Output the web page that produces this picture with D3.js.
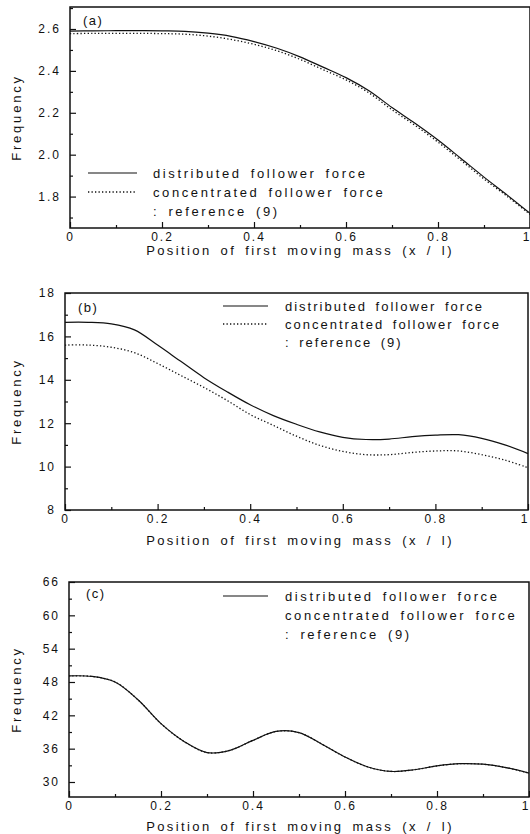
<!DOCTYPE html>
<html>
<head>
<meta charset="utf-8">
<script src="https://cdn.jsdelivr.net/npm/d3@7"></script>
<style>
  body { margin: 0; background: #fff; }
  svg { font-family: "Liberation Sans", Arial, sans-serif; }
</style>
</head>
<body>
<div id="chart"></div>
<script>
// position of first moving mass (x / l)
var pos = [0, 0.05, 0.1, 0.15, 0.2, 0.25, 0.3, 0.35, 0.4, 0.45, 0.5,
           0.55, 0.6, 0.65, 0.7, 0.75, 0.8, 0.85, 0.9, 0.95, 1];

// (a)
var freqA_dist = [2.590, 2.591, 2.592, 2.592, 2.591, 2.589, 2.580, 2.565, 2.540, 2.508, 2.467,
                  2.418, 2.368, 2.305, 2.225, 2.150, 2.070, 1.982, 1.893, 1.808, 1.720];
var freqA_conc = [2.578, 2.579, 2.579, 2.579, 2.578, 2.575, 2.566, 2.550, 2.527, 2.496, 2.455,
                  2.406, 2.357, 2.295, 2.214, 2.140, 2.060, 1.973, 1.884, 1.802, 1.715];
// (b)
var freqB_dist = [16.65, 16.65, 16.58, 16.30, 15.60, 14.85, 14.10, 13.45, 12.85, 12.35, 11.95,
                  11.60, 11.35, 11.25, 11.27, 11.38, 11.45, 11.47, 11.30, 11.00, 10.60];
var freqB_conc = [15.60, 15.60, 15.50, 15.25, 14.75, 14.20, 13.65, 13.05, 12.40, 11.90, 11.40,
                  10.98, 10.70, 10.55, 10.55, 10.65, 10.72, 10.72, 10.55, 10.30, 9.95];
// (c)
var freqC_dist = [49.1, 49.0, 48.0, 44.8, 40.5, 37.3, 35.3, 35.7, 37.5, 39.1, 38.9,
                  36.8, 34.5, 32.7, 31.9, 32.2, 32.9, 33.3, 33.2, 32.6, 31.6];
var freqC_conc = [49.1, 49.0, 48.0, 44.8, 40.5, 37.3, 35.3, 35.7, 37.5, 39.1, 38.9,
                  36.8, 34.5, 32.7, 31.9, 32.2, 32.9, 33.3, 33.2, 32.6, 31.6];

var xMajor = [0, 0.2, 0.4, 0.6, 0.8, 1];
var xMinor = [0.1, 0.3, 0.5, 0.7, 0.9];
var yMajorA = [1.8, 2.0, 2.2, 2.4, 2.6], yMinorA = [1.7, 1.9, 2.1, 2.3, 2.5, 2.7];
var yMajorB = [8, 10, 12, 14, 16, 18],   yMinorB = [9, 11, 13, 15, 17];
var yMajorC = [30, 36, 42, 48, 54, 60, 66], yMinorC = [33, 39, 45, 51, 57, 63];

var legendLabels = ["distributed follower force", "concentrated follower force", ": reference (9)"];

var svg = d3.select("#chart").append("svg")
    .attr("width", 530)
    .attr("height", 834);

function drawPanel(p) {
  var x = d3.scaleLinear().domain([0, 1]).range([p.left, p.right]);
  var y = d3.scaleLinear().domain(p.yDomain).range([p.bottom, p.top]);
  var g = svg.append("g");

  // minor ticks
  g.append("g").attr("transform", "translate(0," + p.bottom + ")")
    .call(d3.axisBottom(x).tickValues(xMinor).tickSize(-3).tickFormat(""))
    .call(function(a) { a.select(".domain").remove(); });
  g.append("g").attr("transform", "translate(" + p.left + ",0)")
    .call(d3.axisLeft(y).tickValues(p.yMinor).tickSize(-3).tickFormat(""))
    .call(function(a) { a.select(".domain").remove(); });

  // major ticks + labels
  var xa = g.append("g").attr("transform", "translate(0," + p.bottom + ")")
    .call(d3.axisBottom(x).tickValues(xMajor).tickSize(-6).tickPadding(4)
      .tickFormat(function(d) { return (d === 0 || d === 1) ? String(d) : d.toFixed(1); }));
  xa.select(".domain").remove();
  xa.selectAll(".tick text").filter(function(d) { return d === 1; })
    .attr("text-anchor", "end").attr("x", 1);
  var ya = g.append("g").attr("transform", "translate(" + p.left + ",0)")
    .call(d3.axisLeft(y).tickValues(p.yMajor).tickSize(-6).tickPadding(9)
      .tickFormat(p.yFormat));
  ya.select(".domain").remove();
  g.selectAll(".tick line").attr("stroke", "#111").attr("stroke-width", 1.2);
  g.selectAll(".tick text")
    .attr("font-size", 12)
    .attr("font-family", "Liberation Sans, Arial, sans-serif")
    .attr("fill", "#111")
    .style("letter-spacing", "2px");

  // frame
  g.append("rect")
    .attr("x", p.left).attr("y", p.top)
    .attr("width", p.right - p.left).attr("height", p.bottom - p.top)
    .attr("fill", "none").attr("stroke", "#111").attr("stroke-width", 1.5);

  var line = d3.line()
    .x(function(d, i) { return x(pos[i]); })
    .y(function(d) { return y(d); })
    .curve(d3.curveCatmullRom.alpha(0.5));

  g.append("path").datum(p.dist)
    .attr("d", line).attr("fill", "none")
    .attr("stroke", "#111").attr("stroke-width", 1.2);
  g.append("path").datum(p.conc)
    .attr("d", line).attr("fill", "none")
    .attr("stroke", "#111").attr("stroke-width", 1.3)
    .attr("stroke-dasharray", "1.3,2.2");

  // panel letter
  g.append("text").attr("x", p.tagX).attr("y", p.tagY)
    .attr("font-size", 13).attr("fill", "#111")
    .style("letter-spacing", "1.5px")
    .text(p.tag);

  // legend
  var lg = g.append("g");
  lg.append("line")
    .attr("x1", p.legX1).attr("x2", p.legX2)
    .attr("y1", p.legRows[0]).attr("y2", p.legRows[0])
    .attr("stroke", "#111").attr("stroke-width", 1.2);
  if (p.showDotSample) {
    lg.append("line")
      .attr("x1", p.legX1).attr("x2", p.legX2)
      .attr("y1", p.legRows[1]).attr("y2", p.legRows[1])
      .attr("stroke", "#111").attr("stroke-width", 1.3)
      .attr("stroke-dasharray", "1.3,2.2");
  }
  lg.selectAll("text").data(legendLabels).enter().append("text")
    .attr("x", p.legTextX)
    .attr("y", function(d, i) { return p.legRows[i] + 4.5; })
    .attr("font-size", 13).attr("fill", "#111")
    .style("letter-spacing", p.legSpacing + "px")
    .style("word-spacing", "3px")
    .text(function(d) { return d; });

  // axis titles
  g.append("text")
    .attr("x", 300).attr("y", p.bottom + p.titleGap)
    .attr("text-anchor", "middle")
    .attr("font-size", 13).attr("fill", "#111")
    .style("letter-spacing", "2.4px")
    .style("word-spacing", "3px")
    .text("Position of first moving mass (x / l)");
  g.append("text")
    .attr("transform", "translate(21," + ((p.top + p.bottom) / 2) + ") rotate(-90)")
    .attr("text-anchor", "middle")
    .attr("font-size", 13).attr("fill", "#111")
    .style("letter-spacing", "2.8px")
    .text("Frequency");
}

drawPanel({
  left: 70, right: 530, top: 7, bottom: 228, yDomain: [1.65, 2.705],
  yMajor: yMajorA, yMinor: yMinorA, yFormat: d3.format(".1f"),
  dist: freqA_dist, conc: freqA_conc, titleGap: 27,
  tag: "(a)", tagX: 83, tagY: 25,
  legX1: 88, legX2: 137, legTextX: 153, legRows: [173, 192, 211],
  legSpacing: 2.6, showDotSample: true
});

drawPanel({
  left: 65, right: 528, top: 293, bottom: 510, yDomain: [8, 18],
  yMajor: yMajorB, yMinor: yMinorB, yFormat: d3.format("d"),
  dist: freqB_dist, conc: freqB_conc, titleGap: 35,
  tag: "(b)", tagX: 78, tagY: 312,
  legX1: 223, legX2: 268, legTextX: 285, legRows: [306, 324, 342],
  legSpacing: 2.0, showDotSample: true
});

drawPanel({
  left: 69, right: 529, top: 582, bottom: 797, yDomain: [27.3, 66],
  yMajor: yMajorC, yMinor: yMinorC, yFormat: d3.format("d"),
  dist: freqC_dist, conc: freqC_conc, titleGap: 34,
  tag: "(c)", tagX: 86, tagY: 598,
  legX1: 223, legX2: 268, legTextX: 285, legRows: [596, 615, 634],
  legSpacing: 2.6, showDotSample: false
});
</script>
</body>
</html>
